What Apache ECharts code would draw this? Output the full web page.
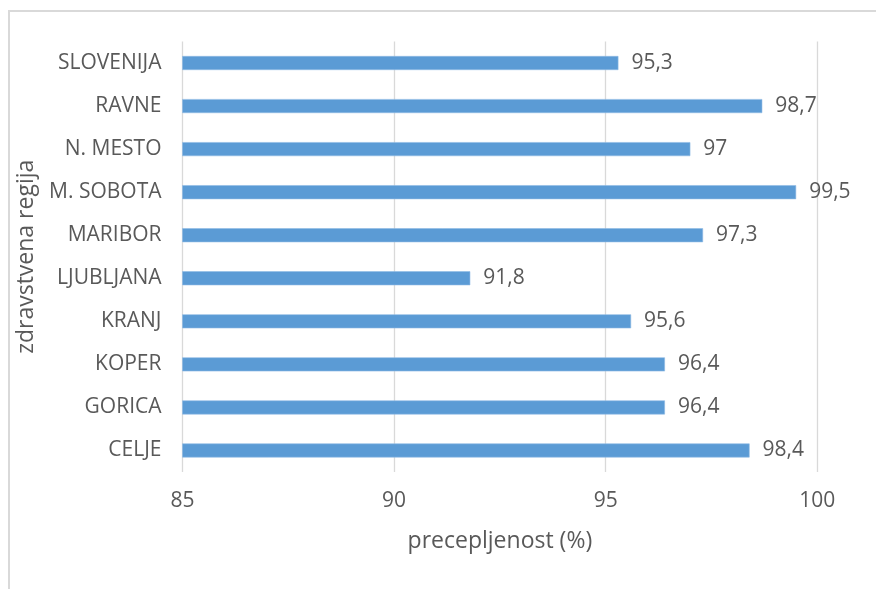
<!DOCTYPE html>
<html>
<head>
<meta charset="utf-8">
<script src="https://cdn.jsdelivr.net/npm/echarts@6/dist/echarts.min.js"></script>
<style>
  html, body { margin: 0; padding: 0; background: #ffffff; }
  #chart { width: 876px; height: 589px; }
</style>
</head>
<body>
<div id="chart"></div>
<script>
// Regions listed bottom to top (category axis starts at the bottom)
const regions = ['CELJE', 'GORICA', 'KOPER', 'KRANJ', 'LJUBLJANA', 'MARIBOR', 'M. SOBOTA', 'N. MESTO', 'RAVNE', 'SLOVENIJA'];
// Vaccination coverage per health region, in percent
const coverage = [98.4, 96.4, 96.4, 95.6, 91.8, 97.3, 99.5, 97.0, 98.7, 95.3];
const xMin = 85, xMax = 100, xStep = 5;

const textColor = '#595959';
const fontFamily = '"Open Sans", "Noto Sans", sans-serif';

const chart = echarts.init(document.getElementById('chart'), null, { renderer: 'canvas' });
chart.setOption({
  animation: false,
  backgroundColor: '#ffffff',
  graphic: [{
    type: 'rect',
    shape: { x: 9, y: 11, width: 900, height: 620 },
    style: { fill: 'none', stroke: '#d9d9d9', lineWidth: 2 },
    silent: true
  }],
  grid: { left: 182.5, right: 58.7, top: 41.5, bottom: 117 },
  xAxis: {
    type: 'value',
    min: xMin, max: xMax, interval: xStep,
    name: 'precepljenost (%)',
    nameLocation: 'middle',
    nameGap: 58,
    nameTextStyle: { color: textColor, fontSize: 23, fontFamily: fontFamily },
    axisLine: { show: false },
    axisTick: { show: false },
    axisLabel: { color: textColor, fontSize: 21, fontFamily: fontFamily, margin: 19 },
    splitLine: { show: true, lineStyle: { color: '#d9d9d9', width: 1.3 } }
  },
  yAxis: {
    type: 'category',
    data: regions,
    name: 'zdravstvena regija',
    nameLocation: 'middle',
    nameGap: 136,
    nameRotate: 90,
    nameTextStyle: { color: textColor, fontSize: 23, fontFamily: fontFamily },
    axisLine: { show: false },
    axisTick: { show: false },
    axisLabel: { color: textColor, fontSize: 21, fontFamily: fontFamily, margin: 21 },
    splitLine: { show: false }
  },
  series: [{
    type: 'bar',
    data: coverage,
    barWidth: 14,
    itemStyle: { color: '#5b9bd5', borderColor: '#8fbbe4', borderWidth: 0.6 },
    label: {
      show: true,
      position: 'right',
      distance: 13,
      color: textColor,
      fontSize: 21,
      fontFamily: fontFamily,
      formatter: p => String(p.value).replace('.', ',')
    }
  }]
});
</script>
</body>
</html>
